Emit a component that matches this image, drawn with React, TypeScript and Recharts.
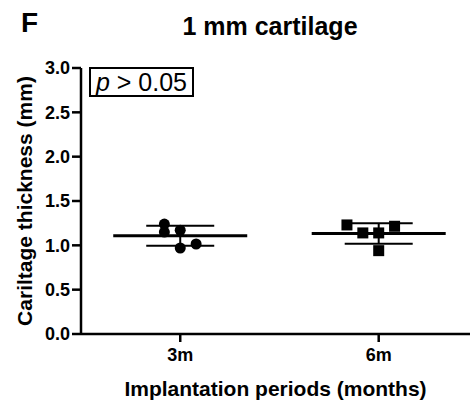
import {
  ScatterChart,
  Scatter,
  XAxis,
  YAxis,
  ErrorBar,
  Label,
} from "recharts";

const GROUPS = ["3m", "6m"];
const THICKNESS_3M = [1.24, 1.15, 1.17, 0.97, 1.015];
const JITTER_3M = [-0.08, -0.08, 0, 0, 0.08];
const THICKNESS_6M = [1.23, 1.14, 1.14, 1.215, 0.94];
const JITTER_6M = [-0.16, -0.08, 0, 0.08, 0];
const Y_TICKS = [0, 0.5, 1, 1.5, 2, 2.5, 3];
const X_TICKS = [1, 2];

const FONT = "'Liberation Sans', Arial, Helvetica, sans-serif";

const points3m = THICKNESS_3M.map((y, i) => ({ x: 1 + JITTER_3M[i], y }));
const points6m = THICKNESS_6M.map((y, i) => ({ x: 2 + JITTER_6M[i], y }));

// mean +/- sample SD for each group
function summary(values: number[], x: number) {
  const mean = values.reduce((a, b) => a + b, 0) / values.length;
  const sd = Math.sqrt(
    values.reduce((a, b) => a + (b - mean) ** 2, 0) / (values.length - 1)
  );
  return { x, y: mean, sd };
}
const means = [summary(THICKNESS_3M, 1), summary(THICKNESS_6M, 2)];

const tickStyle = {
  fill: "#000",
  fontSize: 18,
  fontWeight: "bold",
  fontFamily: FONT,
};

const Dot = (props: any) => (
  <circle cx={props.cx} cy={props.cy} r={5.5} fill="#000" />
);
const Square = (props: any) => (
  <rect x={props.cx - 5.5} y={props.cy - 5.5} width={11} height={11} fill="#000" />
);
const MeanLine = (props: any) => (
  <line
    x1={props.cx - 67}
    x2={props.cx + 67}
    y1={props.cy}
    y2={props.cy}
    stroke="#000"
    strokeWidth={3}
  />
);

export default function App() {
  return (
    <div style={{ position: "absolute", left: 0, top: 0, width: 470, height: 401, background: "#fff", fontFamily: FONT }}>
      <div style={{ position: "absolute", left: 21, top: 7, fontSize: 28, fontWeight: "bold" }}>F</div>
      <div style={{ position: "absolute", left: 0, width: 540, top: 11, textAlign: "center", fontSize: 25, fontWeight: "bold", lineHeight: "30px" }}>
        1 mm cartilage
      </div>
      <ScatterChart
        width={470}
        height={401}
        margin={{ top: 68, right: 0, bottom: 0, left: 0 }}
        style={{ fontFamily: FONT }}
      >
        <XAxis
          type="number"
          dataKey="x"
          domain={[0.5, 2.46]}
          ticks={X_TICKS}
          tickFormatter={(v) => GROUPS[v - 1]}
          height={67}
          axisLine={{ stroke: "#000", strokeWidth: 2.5 }}
          tickLine={{ stroke: "#000", strokeWidth: 2.5 }}
          tickSize={8}
          tickMargin={6}
          tick={tickStyle}
          allowDataOverflow
        >
          <Label
            value="Implantation periods (months)"
            position="insideBottom"
            offset={5}
            style={{ fill: "#000", fontSize: 21, fontWeight: "bold", fontFamily: FONT }}
          />
        </XAxis>
        <YAxis
          type="number"
          dataKey="y"
          domain={[0, 3]}
          ticks={Y_TICKS}
          tickFormatter={(v) => v.toFixed(1)}
          width={81}
          axisLine={{ stroke: "#000", strokeWidth: 2.5 }}
          tickLine={{ stroke: "#000", strokeWidth: 2.5 }}
          tickSize={9}
          tickMargin={2}
          tick={tickStyle}
        >
          <Label
            value="Cariltage thickness (mm)"
            angle={-90}
            position="insideLeft"
            offset={25}
            style={{ textAnchor: "middle", fill: "#000", fontSize: 21, fontWeight: "bold", fontFamily: FONT }}
          />
        </YAxis>
        <Scatter data={means} shape={MeanLine} isAnimationActive={false}>
          <ErrorBar dataKey="sd" direction="y" width={34} stroke="#000" strokeWidth={2} />
        </Scatter>
        <Scatter data={points3m} shape={Dot} isAnimationActive={false} />
        <Scatter data={points6m} shape={Square} isAnimationActive={false} />
      </ScatterChart>
      <div
        style={{
          position: "absolute",
          left: 89,
          top: 67,
          width: 101,
          height: 26,
          border: "2px solid #000",
          fontSize: 25,
          lineHeight: "27px",
          textAlign: "center",
        }}
      >
        <i>p</i> &gt; 0.05
      </div>
    </div>
  );
}
